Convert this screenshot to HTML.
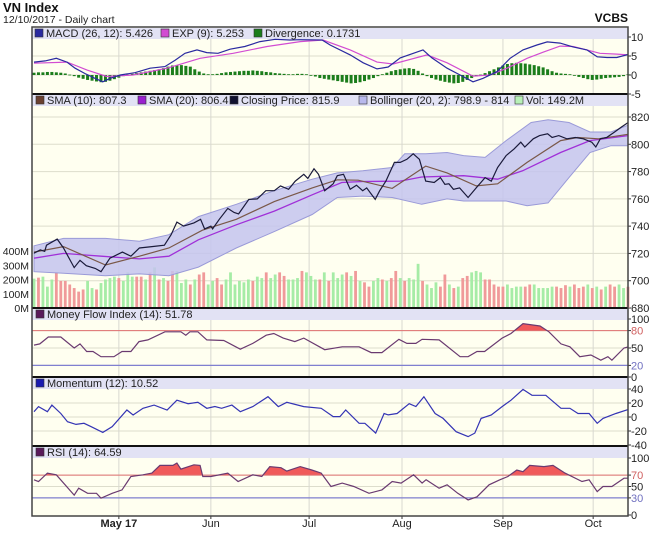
<!DOCTYPE html>
<html><head><meta charset="utf-8"><style>
html,body{margin:0;padding:0;background:#fff;}
svg{display:block;font-family:"Liberation Sans",sans-serif;}
</style></head><body>
<svg id="chart" width="660" height="537" viewBox="0 0 660 537"></svg>
<script>
// ---------- DATA ----------
const monthDays = [19, 39.6, 61.6, 82.4, 105, 125.2];
const monthLabels = ["May 17", "Jun", "Jul", "Aug", "Sep", "Oct"];

const macdLine = [[0,3.4],[2.5,3.7],[5,4.4],[7.4,3.4],[9.2,1.8],[11.4,0.4],[13.7,-0.9],[15.4,-1.8],[17,-0.9],[19.3,0],[22.6,0.6],[26,1.8],[29.3,2.2],[31.6,3.9],[33.8,5.7],[36.5,6.6],[38.7,5.9],[41.2,5.7],[43.9,6.8],[47.2,7.5],[50.6,8.8],[54,9.4],[57.3,9.2],[59.6,9.3],[64.5,9.2],[66.3,7.9],[70.8,5.3],[73.7,3.2],[76.8,1.6],[79.3,2.1],[82,4.5],[87.1,6.6],[89.1,4.5],[92.5,1.8],[95.4,0],[98.3,-1.8],[100.5,-0.9],[103.7,0.9],[106.6,4.4],[109.5,6.6],[112.6,7.9],[114.9,8.7],[117.8,8.4],[120.7,7.4],[123.8,6.6],[126.1,4.8],[128.3,4.6],[130.5,4.6],[133,5.4]];
const macdSignal = [[0,3.1],[7.4,3.4],[11.9,1.3],[16.3,-0.4],[22.2,0],[29.8,1.8],[37.2,4.4],[44.6,5.7],[52.2,7.5],[59.6,8.8],[64.7,9.2],[70.8,6.6],[76.8,3.4],[80.4,2.9],[88,5.3],[92.5,3.2],[98.3,-0.3],[102.1,0],[105.9,1.8],[110.4,4.4],[114,6],[117.8,7.6],[120.7,7.5],[123.8,6.6],[126.7,5.7],[130.5,5.5],[133,5.3]];
const macdHist = [0.6,0.7,0.7,0.8,0.8,0.7,0.6,0.4,0.1,-0.3,-0.7,-1.0,-1.3,-1.5,-1.7,-1.9,-1.8,-1.5,-1.1,-0.7,-0.3,0.1,0.3,0.5,0.7,0.9,1.1,1.3,1.5,1.8,2.2,2.5,2.6,2.6,2.4,2.2,1.5,0.9,0.4,0.2,0.2,0.3,0.5,0.7,0.8,0.9,1.0,1.1,1.1,1.2,1.1,1.0,0.8,0.7,0.5,0.4,0.3,0.2,0.2,0.3,0.3,0.2,0.0,-0.4,-0.8,-1.0,-1.2,-1.4,-1.6,-1.8,-2.0,-2.2,-2.1,-1.9,-1.6,-1.2,-0.8,-0.3,0.2,0.6,1.0,1.3,1.5,1.7,1.8,1.6,1.1,0.4,-0.3,-0.8,-1.2,-1.5,-1.8,-2.0,-2.2,-2.1,-1.8,-1.3,-0.8,-0.4,0.1,0.5,1.0,1.5,2.0,2.5,2.9,3.1,3.2,3.1,3.0,2.8,2.6,2.3,2.0,1.5,1.0,0.6,0.4,0.3,0.2,-0.2,-0.5,-0.8,-1.1,-1.3,-1.2,-1.0,-0.8,-0.7,-0.6,-0.5,-0.3,0.2];

const closePrice = [[0,720.2],[1.4,722.6],[2.4,721.5],[2.8,726],[5.2,730.5],[6.6,724],[9,709.6],[10.3,715],[11.7,711],[13.7,709],[15,706.6],[17,716.5],[19.8,721],[21.7,718],[23.6,724],[26.4,725],[29.2,726],[30.7,733.7],[32,743],[33.5,740],[35.8,742.4],[37.3,745],[38.2,738],[39.6,740],[40,738],[41.5,745],[43.4,753],[44.8,750],[45.8,749],[48.1,759.6],[50,760],[51.9,766],[53.8,766],[55.2,769.5],[57,767],[58.5,773],[60.4,778],[61.3,775],[62.7,782],[63.7,778],[65.1,766],[67,771],[67.9,777],[69.3,778],[70.8,767],[72.2,770],[73.6,766],[74.5,768],[76.4,759.6],[77.4,766],[78.8,773],[80.7,786.7],[82,786.7],[83.5,789],[84.9,793],[86.3,789],[87.7,773],[89.6,772],[91,775.6],[92,770.7],[92.9,771],[93.9,767],[95.3,768],[97.2,761],[99,768],[101,775.6],[102.4,773],[103.8,783],[105.7,791.7],[107.5,796.6],[109,801.5],[109.9,798],[111.8,804],[113.2,806.4],[115,807.7],[116,805],[117.5,806.4],[119.3,804],[121.2,805],[123,804],[124.9,801.5],[125.8,798],[126.8,804],[128.2,805],[130,809],[131.5,812.6],[133,815.9]];
const sma10 = [[0,721],[6.6,725],[16,711.5],[23.6,718],[30.2,724],[37.7,737],[45.3,745],[53.8,758],[62.3,768],[67.9,774],[72.6,773.7],[80.2,767.7],[87.7,784],[92.5,779],[99,769.5],[103.8,771],[110.4,786.7],[117.9,802.7],[121.7,805],[126.4,804],[133,807.3]];
const sma20 = [[0,716.5],[6.6,720],[15.1,718],[23.6,716],[30.2,718],[36.8,730],[45.3,741],[53.8,751],[62.3,763],[68.9,772],[73.6,772.7],[82,773],[86.8,776],[96.2,777],[103.8,774.4],[109.4,780.6],[117.9,794],[124.5,802.7],[133,806.4]];
const bollUpper = [[0,725.6],[6.6,731],[16,731],[23.6,729],[30.2,733.7],[36.8,747],[45.3,756],[53.8,766],[62.3,774.4],[67.9,779],[73.6,780.6],[80.2,783],[83,793],[87.7,793],[92.5,794],[96.2,791.7],[101,790.4],[105.7,802.7],[111.3,816],[115.1,818],[119.8,816],[124.5,809],[129.2,809],[133,814]];
const bollLower = [[0,706.6],[6.6,705.4],[16,703.7],[23.6,705],[30.2,703.7],[36.8,710],[45.3,724],[53.8,736],[62.3,748.5],[67.9,761],[73.6,762],[80.2,761],[86.8,756],[92.5,760],[96.2,758.4],[101,758.4],[105.7,758.4],[110.4,755],[115.1,757],[119.8,775.6],[124.5,794],[129.2,799],[133,798.9]];

const volumes = [206,213,220,150,200,250,190,190,165,140,115,130,190,140,130,175,200,210,220,210,190,250,220,220,220,200,250,285,200,210,190,260,260,175,200,165,200,235,250,165,190,210,165,200,250,165,190,180,200,190,220,210,250,210,235,250,225,200,200,210,260,250,225,200,200,250,190,250,210,235,250,225,260,190,180,150,190,210,200,190,210,260,210,190,210,200,310,190,165,140,180,150,235,165,140,150,210,225,250,260,250,200,200,165,150,150,165,140,150,150,150,165,165,140,140,140,150,150,140,160,150,165,140,150,165,140,150,130,150,165,150,165,140,149];
const volUp = "grgggrrrrrrrggrggggrgggrrgrgrgrrgggrgrrggrrggggggrggrggrrgggrgggrgrgggrgrgrrggrgrrgrgggrgggrrgrgrrgggrrrrrggggrrgggggrrrgrrrgrgrgrrggrrgg";

const mfi = [[0,55],[1.3,57],[3.2,69],[6,69],[9,50],[10.3,57],[11.8,44],[13.2,44],[15,35],[17.9,35],[19.7,44],[21.7,44],[23.5,61],[25.5,64],[29.3,78],[32.9,78],[34,72],[34.9,78],[36.7,78],[38.7,64],[42.5,63],[46.2,48],[49,58],[52,72],[53.7,75],[55.8,67],[58.4,61],[60.4,67],[65.1,47],[69,52],[72.8,52],[75.5,42],[77.9,42],[81.7,65],[83.5,58],[85.5,58],[86.9,65],[90.7,64],[95.4,35],[97.2,35],[99.2,44],[100.9,44],[104.8,67],[106.8,75],[109.5,92],[113.3,88],[115.3,78],[118,57],[120,52],[122.2,35],[124.7,38],[126.9,29],[128.5,35],[129.4,29],[132.1,50],[133,51.78]];
const momentum = [[0,7.6],[1,14.8],[3,7.6],[4,17],[6,5],[7.5,-6.7],[9.4,-10.5],[11.2,-9],[12.8,-13.8],[15.4,-22],[17.5,-13.8],[20.8,10],[22.2,2.9],[24.4,12.4],[26.9,17],[29.8,10],[32,24],[34.5,19],[36.7,21],[38.7,12.4],[40.5,15],[42,12.4],[44.3,17],[46.2,7.6],[49,14.8],[52.4,29],[54.7,14.8],[56.6,21],[60.4,14.8],[64.3,12.4],[67,0.5],[68.5,0.5],[69.8,10],[72.8,-9],[74.1,-9],[76.5,-23],[78.4,5],[79.3,3],[81.3,5],[84,19],[85.5,15],[87.3,29],[89.8,5],[91.6,-2],[94.5,-21],[97.2,-28],[98.7,-23],[100.1,-2],[102.4,2.9],[104.8,14.8],[106.8,24],[109.5,39.5],[111.5,31],[113.7,31],[114.6,31],[118,12.4],[120,12.4],[121.8,5],[124.3,5],[126.1,-9],[127.4,-2],[130.3,5],[133,10.52]];
const rsi = [[0,61.7],[1,58.8],[3,73.5],[5,70.6],[9,35],[10,47],[12,38],[14,38],[15,29.4],[17.5,38],[19.7,44],[21.7,67.6],[24.4,70.6],[26.4,73.5],[28.2,87],[31.1,87],[32,91],[32.9,80.6],[35.8,88],[37.2,87],[37.8,67.6],[39.6,67.6],[43.4,73.5],[45.7,58.8],[49,70.6],[51,67.6],[52.8,85],[55.3,83],[56.6,77],[59.6,85],[62.2,79],[64.3,73.5],[66.5,50],[69,56],[71.6,50],[75,38],[77.9,44],[80.2,58.8],[82.2,56],[85,70.6],[86.9,56],[87.8,62],[90.7,47],[92.5,53],[94.9,38],[97.2,26.5],[99.2,32],[101.9,53],[104.3,61.7],[106.1,67.6],[108.1,79],[109.5,76],[111,87],[114.2,85],[116.2,87],[118.9,73.5],[122.7,58.8],[124.3,61.7],[126.1,41],[127.4,50],[129.4,50],[132.1,64.6],[133,64.59]];

const macdTicks = [10,5,0,-5];
const priceTicks = [820,800,780,760,740,720,700,680];
const volTicks = [400,300,200,100,0];
const mfiTicks = [100,80,50,20,0];
const momTicks = [40,20,0,-20,-40];
const rsiTicks = [100,70,50,30,0];

// ---------- LAYOUT ----------
const svg = document.getElementById('chart');
const NS = 'http://www.w3.org/2000/svg';
const L = 32, R = 628;
const X = d => 34 + d * (594 / 133);
function lin(v0, y0, v1, y1){ return v => y0 + (v - v0) * (y1 - y0) / (v1 - v0); }
const yMacd = lin(10, 37, -5, 94);
const yPrice = lin(820, 117, 680, 308);
const yVol = lin(0, 308, 400, 251);
const yMfi = lin(100, 319, 0, 377);
const yMom = lin(40, 389, -40, 445);
const yRsi = lin(100, 458, 0, 515);

function el(tag, attrs, parent){
  const e = document.createElementNS(NS, tag);
  for (const k in attrs) e.setAttribute(k, attrs[k]);
  (parent || svg).appendChild(e);
  return e;
}
function txt(x, y, s, attrs){
  const t = el('text', Object.assign({x:x, y:y, 'font-size':11, fill:'#222'}, attrs||{}));
  t.textContent = s;
  return t;
}
function pathOf(pts, yf){ return pts.map((p,i)=>(i?'L':'M')+X(p[0]).toFixed(1)+','+yf(p[1]).toFixed(1)).join(''); }

let t = txt(3, 12, 'VN Index', {'font-size':13, 'font-weight':'bold', fill:'#111'});


t = txt(3, 23, '12/10/2017 - Daily chart', {'font-size':10.5, fill:'#222'});


t = txt(628, 22, 'VCBS', {'font-size':12, 'font-weight':'bold', 'text-anchor':'end', fill:'#111'});



const panels = [
  {name:'macd-panel', top:27, bot:94, ticks:macdTicks, yf:yMacd},
  {name:'price-panel', top:94, bot:308, ticks:priceTicks, yf:yPrice},
  {name:'mfi-panel', top:308, bot:377, ticks:mfiTicks, yf:yMfi},
  {name:'momentum-panel', top:377, bot:446, ticks:momTicks, yf:yMom},
  {name:'rsi-panel', top:446, bot:516, ticks:rsiTicks, yf:yRsi}
];
panels.forEach(p=>{
  const g = el('g', {});
  
  
  el('rect', {x:L, y:p.top, width:R-L, height:p.bot-p.top, fill:'#fffff0'}, g);
  el('rect', {x:L, y:p.top+1, width:R-L, height:11, fill:'#e2e2f4'}, g);
  p.ticks.forEach(v=>{
    const y = p.yf(v);
    if (y > p.top + 12 && y < p.bot - 1) el('line', {x1:L, x2:R, y1:y, y2:y, stroke:'#ddddcc', 'stroke-width':1}, g);
    el('line', {x1:R, x2:R+3, y1:y, y2:y, stroke:'#333'}, g);
    let col = '#222';
    if ((p.name==='mfi-panel' && v===80) || (p.name==='rsi-panel' && v===70)) col = '#d06060';
    if ((p.name==='mfi-panel' && v===20) || (p.name==='rsi-panel' && v===30)) col = '#7070c0';
    const lab = txt(R+3, y+4, String(v), {'font-size':11, fill:col});
    
    
  });
  monthDays.forEach(d=>{
    el('line', {x1:X(d), x2:X(d), y1:p.top+12, y2:p.bot, stroke:'#d8d8d0', 'stroke-width':1}, g);
  });
});

monthDays.forEach((d,i)=>{
  const lab = txt(X(d), 527, monthLabels[i], {'font-size':11, 'text-anchor':'middle', 'font-weight': i===0?'bold':'normal'});
  
  
  el('line', {x1:X(d), x2:X(d), y1:516, y2:519, stroke:'#333'});
});

volTicks.forEach(v=>{
  const lab = txt(29, yVol(v)+4, v+'M', {'font-size':10.5, 'text-anchor':'end'});
  
  
});

macdHist.forEach((v,i)=>{
  const y0 = yMacd(0), y1 = yMacd(v);
  const r = el('rect', {x:X(i)-1.5, y:Math.min(y0,y1), width:3, height:Math.max(0.8,Math.abs(y1-y0)), fill:'#1b7d1b'});
  
  
});
let pth = el('path', {d:pathOf(macdSignal, yMacd), fill:'none', stroke:'#d24cd2', 'stroke-width':1.2});


pth = el('path', {d:pathOf(macdLine, yMacd), fill:'none', stroke:'#2a2aa0', 'stroke-width':1.2});



volumes.forEach((v,i)=>{
  const up = volUp[i] !== 'r';
  const r = el('rect', {x:X(i)-1.4, y:yVol(v), width:2.8, height:yVol(0)-yVol(v), fill: up ? '#a6eca6' : '#f09a9a'});
  
  
});
const bandD = pathOf(bollUpper, yPrice) + bollLower.slice().reverse().map(p=>'L'+X(p[0]).toFixed(1)+','+yPrice(p[1]).toFixed(1)).join('') + 'Z';
pth = el('path', {d:bandD, fill:'#c4c4ee', 'fill-opacity':0.85, stroke:'#9a9ad8', 'stroke-width':1});


pth = el('path', {d:pathOf(sma20, yPrice), fill:'none', stroke:'#a030d8', 'stroke-width':1.3});


pth = el('path', {d:pathOf(sma10, yPrice), fill:'none', stroke:'#7a5848', 'stroke-width':1.2});


pth = el('path', {d:pathOf(closePrice, yPrice), fill:'none', stroke:'#1a1a3a', 'stroke-width':1.2});



function osc(data, yf, hi, lo, top, name, color){
  const yh = yf(hi);
  const cid = 'clip-' + name;
  const cp = el('clipPath', {id:cid});
  el('rect', {x:L, y:top, width:R-L, height:yh-top}, cp);
  const fillD = pathOf(data, yf) + 'L'+X(data[data.length-1][0])+','+yh+'L'+X(data[0][0])+','+yh+'Z';
  const f = el('path', {d:fillD, fill:'#f05a5a', 'clip-path':'url(#'+cid+')'});
  
  
  el('line', {x1:L, x2:R, y1:yh, y2:yh, stroke:'#e07070', 'stroke-width':1});
  el('line', {x1:L, x2:R, y1:yf(lo), y2:yf(lo), stroke:'#8080d0', 'stroke-width':1.2});
  const p = el('path', {d:pathOf(data, yf), fill:'none', stroke:color, 'stroke-width':1.2});
  
  
}
osc(mfi, yMfi, 80, 20, 320, 'mfi', '#6a3a70');
osc(rsi, yRsi, 70, 30, 459, 'rsi', '#6a3a70');
pth = el('path', {d:pathOf(momentum, yMom), fill:'none', stroke:'#3434b4', 'stroke-width':1.2});



[94, 308, 377, 446].forEach(y=>{
  el('line', {x1:L, x2:R, y1:y, y2:y, stroke:'#111', 'stroke-width':2});
});
el('rect', {x:L, y:27, width:R-L, height:489, fill:'none', stroke:'#444', 'stroke-width':1.5});

function legend(x, y, color, label, name){
  const g = el('g', {});
  
  
  el('rect', {x:x, y:y-8, width:8, height:8, fill:color, stroke:'#333', 'stroke-width':0.6}, g);
  const tt = el('text', {x:x+11, y:y, 'font-size':11, fill:'#222'}, g);
  tt.textContent = label;
}
legend(35, 37, '#2a2aa0', 'MACD (26, 12): 5.426', 'legend-macd');
legend(161, 37, '#d24cd2', 'EXP (9): 5.253', 'legend-exp');
legend(254, 37, '#1b7d1b', 'Divergence: 0.1731', 'legend-divergence');
legend(36, 104, '#6a4030', 'SMA (10): 807.3', 'legend-sma10');
legend(138, 104, '#9a20d0', 'SMA (20): 806.4', 'legend-sma20');
legend(230, 104, '#101030', 'Closing Price: 815.9', 'legend-closing-price');
legend(359, 104, '#b8b8ec', 'Bollinger (20, 2): 798.9 - 814', 'legend-bollinger');
legend(515, 104, '#b8f0b8', 'Vol: 149.2M', 'legend-volume');
legend(36, 318, '#5a1a5a', 'Money Flow Index (14): 51.78', 'legend-mfi');
legend(36, 387, '#1a1ab0', 'Momentum (12): 10.52', 'legend-momentum');
legend(36, 456, '#5a1a5a', 'RSI (14): 64.59', 'legend-rsi');
</script>
</body></html>
